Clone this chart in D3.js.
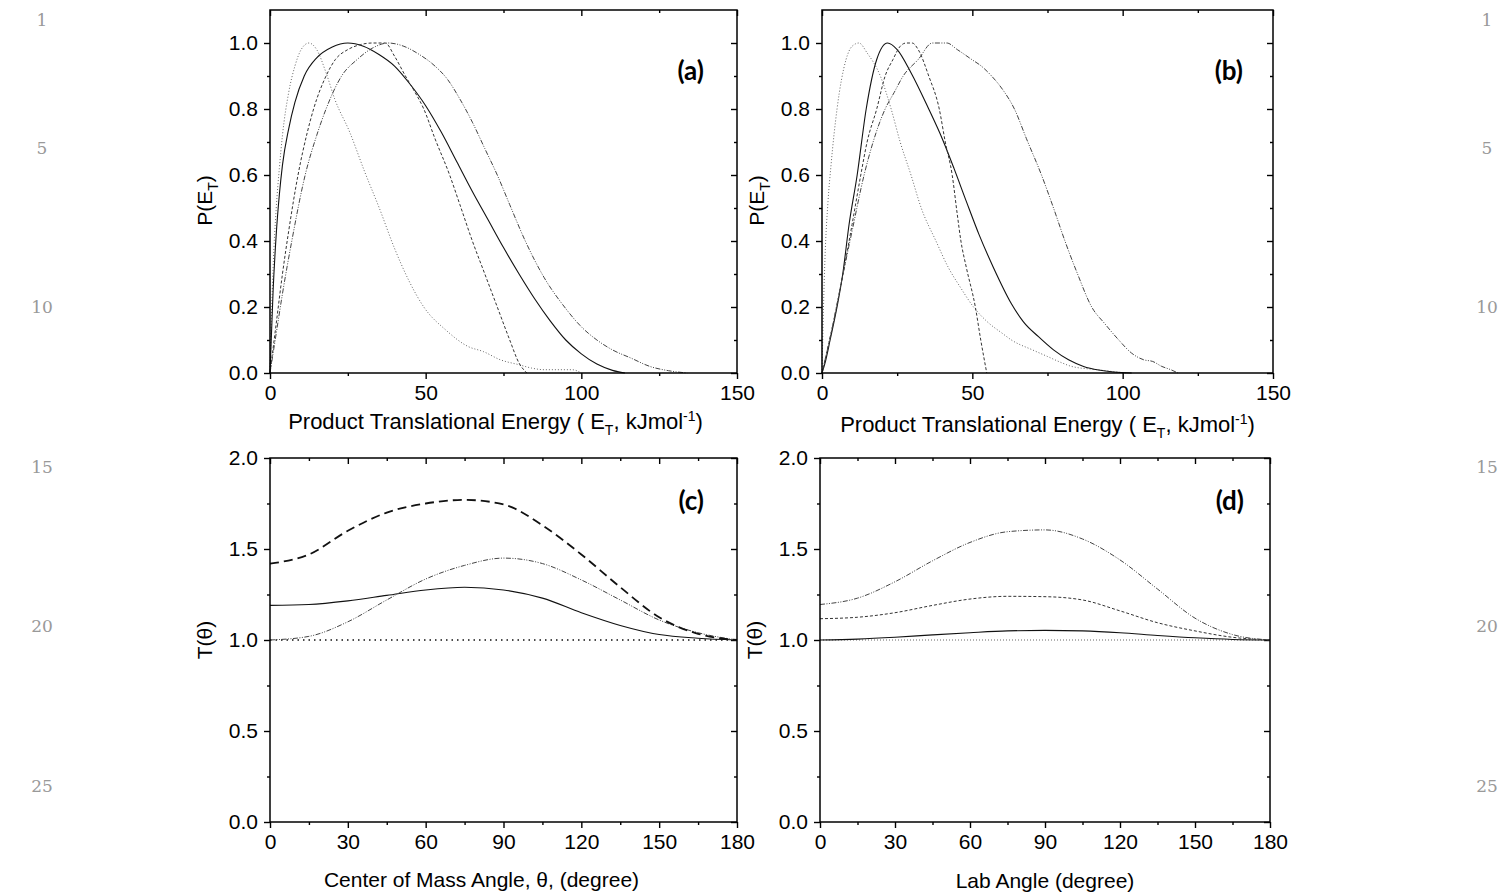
<!DOCTYPE html>
<html>
<head>
<meta charset="utf-8">
<script src="https://cdn.jsdelivr.net/npm/d3@7"></script>
<style>
  body { margin: 0; background: #fff; }
  text { font-family: "Liberation Sans", Arial, sans-serif; }
</style>
</head>
<body>
<script>
// margin line numbers
const lineNumbers = [1, 5, 10, 15, 20, 25]

// panel (a): P(E_T) vs E_T
const aDotE = [0, 0.5, 1, 2, 3, 4, 6, 8, 10, 12.5, 15, 18, 20.8, 25.6, 30.4, 35.1, 39.9, 44.6, 49.4, 56.5, 63.7, 68.5, 74, 80, 84, 88, 93, 97, 100]
const aDotP = [0, 0.18, 0.32, 0.5, 0.62, 0.72, 0.85, 0.93, 0.98, 1.0, 0.98, 0.91, 0.83, 0.73, 0.61, 0.5, 0.38, 0.28, 0.2, 0.13, 0.08, 0.065, 0.04, 0.025, 0.015, 0.01, 0.01, 0.01, 0]
const aSolE = [0, 1, 2, 3, 4, 6, 8, 11, 15, 20, 25, 30, 35, 40, 45, 50, 55, 60, 65, 70, 75, 80, 85, 90, 95, 100, 105, 110, 114]
const aSolP = [0, 0.25, 0.42, 0.54, 0.63, 0.74, 0.82, 0.9, 0.955, 0.988, 1.0, 0.99, 0.965, 0.93, 0.875, 0.81, 0.73, 0.64, 0.55, 0.465, 0.38, 0.3, 0.225, 0.158, 0.1, 0.058, 0.027, 0.008, 0]
const aDashE = [0, 2, 4, 6, 9, 12, 14, 18, 21, 25, 29, 33, 37, 40, 43.5, 46, 49.4, 53, 57.7, 61, 65, 69, 73, 77, 80, 82.5]
const aDashP = [0, 0.15, 0.3, 0.43, 0.6, 0.73, 0.8, 0.9, 0.95, 0.98, 0.995, 1.0, 1.0, 0.96, 0.9, 0.86, 0.8, 0.71, 0.6, 0.51, 0.4, 0.3, 0.2, 0.1, 0.03, 0]
const aDdE = [0, 2, 4, 7, 11.3, 15, 18, 23, 28, 33, 38, 43, 48, 53, 57, 61, 65, 69, 73, 77, 82, 88, 94.6, 100, 105, 110, 116, 122, 128, 134]
const aDdP = [0, 0.12, 0.24, 0.4, 0.6, 0.72, 0.8, 0.9, 0.95, 0.985, 1.0, 0.99, 0.965, 0.93, 0.89, 0.83, 0.76, 0.68, 0.6, 0.51, 0.4, 0.29, 0.2, 0.14, 0.1, 0.07, 0.045, 0.02, 0.007, 0]

// panel (b)
const bDotE = [0, 0.5, 1, 2, 3, 5, 8, 10, 12.3, 15, 19.4, 23, 26, 29.6, 33, 37.9, 42, 46, 50.4, 55, 60, 63, 70, 75, 80, 83, 91.5, 96, 101]
const bDotP = [0, 0.2, 0.35, 0.52, 0.63, 0.8, 0.95, 0.99, 1.0, 0.97, 0.9, 0.8, 0.7, 0.6, 0.5, 0.4, 0.32, 0.26, 0.2, 0.155, 0.12, 0.1, 0.07, 0.05, 0.03, 0.02, 0.01, 0.005, 0]
const bSolE = [0, 1, 2.7, 5, 6.9, 9, 11.7, 14.7, 18.2, 21.8, 25, 29.6, 35.5, 40, 43.9, 48, 52.2, 57, 63, 67, 72, 77, 82, 87, 92, 97, 103]
const bSolP = [0, 0.03, 0.1, 0.2, 0.3, 0.45, 0.6, 0.8, 0.95, 1.0, 0.98, 0.91, 0.8, 0.71, 0.62, 0.52, 0.42, 0.32, 0.21, 0.155, 0.11, 0.07, 0.04, 0.02, 0.009, 0.003, 0]
const bDashE = [0, 3, 7, 10, 12.9, 15, 18.2, 21, 23.6, 26, 28, 30, 32, 35.5, 39, 41, 43.3, 45, 46.2, 48, 51, 52.8, 54.8]
const bDashP = [0, 0.12, 0.3, 0.45, 0.6, 0.7, 0.8, 0.9, 0.95, 0.99, 1.0, 1.0, 0.98, 0.9, 0.8, 0.7, 0.6, 0.48, 0.4, 0.32, 0.2, 0.1, 0]
const bDdE = [0, 3, 7, 10, 14, 17, 21, 24, 27, 32, 36.7, 41.5, 45, 49.8, 53, 56.4, 60, 64, 68, 73, 77, 80.8, 85, 89.7, 94, 98.7, 103, 107, 110, 113, 116, 118.4]
const bDdP = [0, 0.12, 0.3, 0.43, 0.6, 0.7, 0.8, 0.85, 0.9, 0.95, 1.0, 1.0, 0.98, 0.95, 0.93, 0.9, 0.86, 0.8, 0.71, 0.6, 0.5, 0.4, 0.3, 0.2, 0.15, 0.1, 0.06, 0.04, 0.035, 0.02, 0.01, 0]

// panels (c) and (d): T(theta)
const theta = [0, 15, 30, 45, 60, 75, 90, 105, 120, 135, 150, 165, 180]
const cDash = [1.42, 1.47, 1.6, 1.7, 1.75, 1.77, 1.745, 1.63, 1.47, 1.29, 1.125, 1.034, 1.0]
const cDashDot = [1.0, 1.02, 1.1, 1.22, 1.335, 1.41, 1.45, 1.42, 1.33, 1.22, 1.11, 1.04, 1.0]
const cSolid = [1.19, 1.195, 1.215, 1.245, 1.275, 1.29, 1.275, 1.23, 1.15, 1.08, 1.03, 1.01, 1.0]
const cDot = [1, 1, 1, 1, 1, 1, 1, 1, 1, 1, 1, 1, 1]
const dDashDot = [1.195, 1.23, 1.32, 1.435, 1.536, 1.595, 1.605, 1.555, 1.44, 1.28, 1.12, 1.03, 1.0]
const dDash = [1.117, 1.125, 1.15, 1.19, 1.225, 1.24, 1.238, 1.22, 1.16, 1.095, 1.05, 1.015, 1.0]
const dSolid = [1.0, 1.005, 1.015, 1.028, 1.04, 1.05, 1.053, 1.05, 1.04, 1.025, 1.012, 1.003, 1.0]
const dDot = [1, 1, 1, 1, 1, 1, 1, 1, 1, 1, 1, 1, 1]

const energyMajor = [0, 50, 100, 150], energyMinor = [25, 75, 125]
const probMajor = [0, 0.2, 0.4, 0.6, 0.8, 1.0], probMinor = [0.1, 0.3, 0.5, 0.7, 0.9]
const angleMajor = [0, 30, 60, 90, 120, 150, 180], angleMinor = [15, 45, 75, 105, 135, 165]
const tMajor = [0, 0.5, 1.0, 1.5, 2.0], tMinor = [0.25, 0.75, 1.25, 1.75]

const styles = {
	solid: { stroke: '#111', width: 1.1, dash: null },
	dot: { stroke: '#666', width: 1, dash: '1,2' },
	dash: { stroke: '#333', width: 1, dash: '3,2' },
	dashdot: { stroke: '#444', width: 1, dash: '5,1.5,1,1.5,1,1.5' },
	dotBlack: { stroke: '#111', width: 1.3, dash: '1.5,4' },
	dashThick: { stroke: '#111', width: 1.8, dash: '9,5' }
}

const zip = (xs, ys) => xs.map((v, i) => [v, ys[i]])

const svg = d3.select('body').append('svg')
	.attr('width', 1499)
	.attr('height', 895)

// line numbers down both margins
lineNumbers.forEach(n => {
	const yy = 26 + (n - 1) * 31.9
	svg.append('text').attr('x', 42).attr('y', yy).attr('text-anchor', 'middle')
		.attr('fill', '#999').style('font-family', '"DejaVu Serif", serif').style('font-size', '17px').text(n)
	svg.append('text').attr('x', 1487).attr('y', yy).attr('text-anchor', 'middle')
		.attr('fill', '#999').style('font-family', '"DejaVu Serif", serif').style('font-size', '17px').text(n)
})

function panel(cfg) {
	const g = svg.append('g').attr('transform', `translate(${cfg.left},${cfg.top})`)
	const w = cfg.width, h = cfg.height
	const x = d3.scaleLinear().domain(cfg.xDomain).range([0, w])
	const y = d3.scaleLinear().domain(cfg.yDomain).range([h, 0])

	const fmtY = d3.format('.1f')
	const axes = [
		[d3.axisBottom(x).tickValues(cfg.xMajor).tickSize(6).tickPadding(6).tickFormat(d3.format('d')), `translate(0,${h})`, true],
		[d3.axisBottom(x).tickValues(cfg.xMinor).tickSize(3).tickFormat(''), `translate(0,${h})`],
		[d3.axisTop(x).tickValues(cfg.xMajor).tickSize(-6).tickFormat(''), 'translate(0,0)'],
		[d3.axisTop(x).tickValues(cfg.xMinor).tickSize(-3).tickFormat(''), 'translate(0,0)'],
		[d3.axisLeft(y).tickValues(cfg.yMajor).tickSize(6).tickPadding(6).tickFormat(fmtY), 'translate(0,0)', true],
		[d3.axisLeft(y).tickValues(cfg.yMinor).tickSize(3).tickFormat(''), 'translate(0,0)'],
		[d3.axisRight(y).tickValues(cfg.yMajor).tickSize(-6).tickFormat(''), `translate(${w},0)`],
		[d3.axisRight(y).tickValues(cfg.yMinor).tickSize(-3).tickFormat(''), `translate(${w},0)`]
	]
	axes.forEach(([ax, tr, labelled]) => {
		const a = g.append('g').attr('transform', tr).call(ax)
		a.select('.domain').remove()
		a.selectAll('line').attr('stroke', '#000').attr('stroke-width', 1.4)
		if (labelled) a.selectAll('text').attr('fill', '#000').style('font-size', '21px')
			.style('font-family', '"Liberation Sans", Arial, sans-serif')
	})

	const line = d3.line()
		.x(d => x(d[0]))
		.y(d => y(d[1]))
		.curve(d3.curveMonotoneX)

	cfg.series.forEach(s => {
		const st = styles[s.style]
		g.append('path')
			.datum(zip(s.x, s.y))
			.attr('fill', 'none')
			.attr('stroke', st.stroke)
			.attr('stroke-width', st.width)
			.attr('stroke-dasharray', st.dash)
			.attr('d', line)
	})

	g.append('rect').attr('width', w).attr('height', h)
		.attr('fill', 'none').attr('stroke', '#000').attr('stroke-width', 1.5)

	g.append('text').attr('x', w - cfg.tagInset).attr('y', cfg.tagY).attr('text-anchor', 'end')
		.style('font-family', 'Lato, "Open Sans", sans-serif').style('font-weight', 700).style('font-size', '26px')
		.text(cfg.tag)

	// x title
	const xt = g.append('text').attr('x', w / 2 + cfg.xTitleShift).attr('y', h + cfg.xTitleDy).attr('text-anchor', 'middle')
		.style('font-size', cfg.xTitleSize)
	cfg.xTitle(xt)

	// y title
	const yt = g.append('text').attr('transform', `translate(${cfg.yTitleDx},${h / 2 + cfg.yTitleShift}) rotate(-90)`)
		.attr('text-anchor', 'middle').style('font-size', '21px')
	cfg.yTitle(yt)
}

const energyTitle = t => {
	t.append('tspan').text('Product Translational Energy ( E')
	t.append('tspan').attr('dy', 6).style('font-size', '14px').text('T')
	t.append('tspan').attr('dy', -6).text(', kJmol')
	t.append('tspan').attr('dy', -8).style('font-size', '14px').text('-1')
	t.append('tspan').attr('dy', 8).text(')')
}
const probTitle = t => {
	t.append('tspan').text('P(E')
	t.append('tspan').attr('dy', 6).style('font-size', '14px').text('T')
	t.append('tspan').attr('dy', -6).text(')')
}
const tTitle = t => t.text('T(θ)')

panel({
	left: 270, top: 10, width: 467, height: 363,
	xDomain: [0, 150], yDomain: [0, 1.1],
	xMajor: energyMajor, xMinor: energyMinor, yMajor: probMajor, yMinor: probMinor,
	tag: '(a)', tagInset: 33, tagY: 70,
	xTitle: energyTitle, xTitleDy: 56, xTitleShift: -8, xTitleSize: '22px',
	yTitle: probTitle, yTitleDx: -58, yTitleShift: 9,
	series: [
		{ x: aDotE, y: aDotP, style: 'dot' },
		{ x: aSolE, y: aSolP, style: 'solid' },
		{ x: aDashE, y: aDashP, style: 'dash' },
		{ x: aDdE, y: aDdP, style: 'dashdot' }
	]
})

panel({
	left: 822, top: 10, width: 451, height: 363,
	xDomain: [0, 150], yDomain: [0, 1.1],
	xMajor: energyMajor, xMinor: energyMinor, yMajor: probMajor, yMinor: probMinor,
	tag: '(b)', tagInset: 30, tagY: 70,
	xTitle: energyTitle, xTitleDy: 59, xTitleShift: 0, xTitleSize: '22px',
	yTitle: probTitle, yTitleDx: -58, yTitleShift: 9,
	series: [
		{ x: bDotE, y: bDotP, style: 'dot' },
		{ x: bSolE, y: bSolP, style: 'solid' },
		{ x: bDashE, y: bDashP, style: 'dash' },
		{ x: bDdE, y: bDdP, style: 'dashdot' }
	]
})

panel({
	left: 270, top: 458, width: 467, height: 364,
	xDomain: [0, 180], yDomain: [0, 2],
	xMajor: angleMajor, xMinor: angleMinor, yMajor: tMajor, yMinor: tMinor,
	tag: '(c)', tagInset: 33, tagY: 52,
	xTitle: t => t.text('Center of Mass Angle, θ, (degree)'), xTitleDy: 65, xTitleShift: -22, xTitleSize: '21px',
	yTitle: tTitle, yTitleDx: -58, yTitleShift: 0,
	series: [
		{ x: theta, y: cDot, style: 'dotBlack' },
		{ x: theta, y: cSolid, style: 'solid' },
		{ x: theta, y: cDashDot, style: 'dashdot' },
		{ x: theta, y: cDash, style: 'dashThick' }
	]
})

panel({
	left: 820, top: 458, width: 450, height: 364,
	xDomain: [0, 180], yDomain: [0, 2],
	xMajor: angleMajor, xMinor: angleMinor, yMajor: tMajor, yMinor: tMinor,
	tag: '(d)', tagInset: 26, tagY: 52,
	xTitle: t => t.text('Lab Angle (degree)'), xTitleDy: 66, xTitleShift: 0, xTitleSize: '21px',
	yTitle: tTitle, yTitleDx: -58, yTitleShift: 0,
	series: [
		{ x: theta, y: dDot, style: 'dot' },
		{ x: theta, y: dSolid, style: 'solid' },
		{ x: theta, y: dDash, style: 'dash' },
		{ x: theta, y: dDashDot, style: 'dashdot' }
	]
})
</script>
</body>
</html>
